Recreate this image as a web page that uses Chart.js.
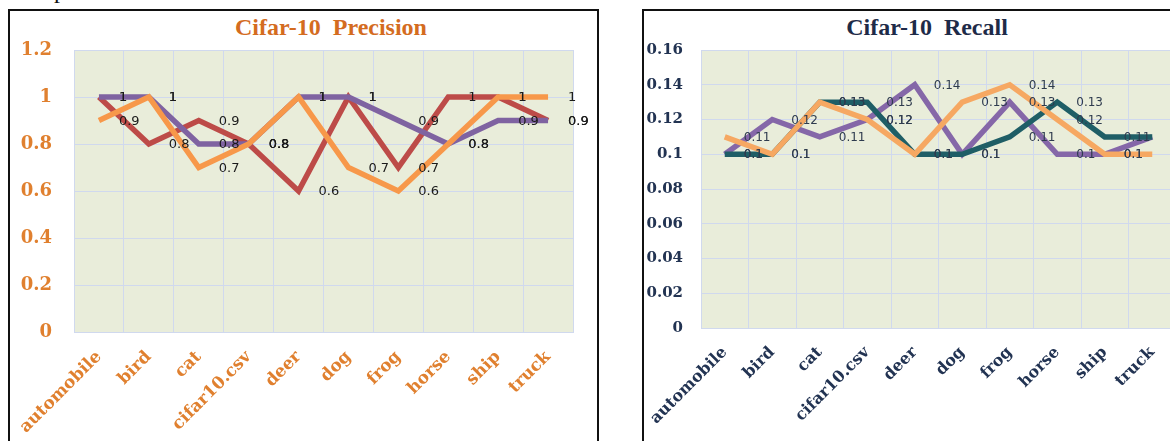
<!DOCTYPE html>
<html>
<head>
<meta charset="utf-8">
<script src="https://cdn.jsdelivr.net/npm/chart.js@4.4.1/dist/chart.umd.min.js"></script>
<style>
  html, body { margin: 0; padding: 0; background: #fff; }
  body { position: relative; width: 1170px; height: 441px; overflow: hidden; }
  .frame { position: absolute; box-sizing: border-box; border: 2px solid #111; height: 600px; }
  .title { position: absolute; width: 400px; text-align: center; white-space: pre;
           font-family: "Liberation Serif", serif; font-weight: bold; font-size: 24px; line-height: 24px; }
  canvas { position: absolute; }
  #cut { position: absolute; left: -2px; top: -22px; font-family: "Liberation Serif", serif; font-size: 24px; line-height: 24px; color: #111; }
</style>
</head>
<body>
<div id="cut">Example:</div>
<div class="frame" style="left:8px; top:9px; width:591px;"></div>
<div class="frame" style="left:642px; top:9px; width:600px;"></div>
<div class="title" style="left:131px; top:15px; color:#D46C1F;">Cifar-10  Precision</div>
<div class="title" style="left:727px; top:15px; color:#1E2B48;">Cifar-10  Recall</div>
<canvas id="precChart" width="586" height="470" style="left:10px; top:11px;"></canvas>
<canvas id="recChart" width="560" height="470" style="left:644px; top:11px;"></canvas>

<script>
// categories shared by both charts
const classes = ["automobile", "bird", "cat", "cifar10.csv", "deer", "dog", "frog", "horse", "ship", "truck"];

// precision series
const precRed    = [1, 0.8, 0.9, 0.8, 0.6, 1, 0.7, 1, 1, 0.9];
const precPurple = [1, 1, 0.8, 0.8, 1, 1, 0.9, 0.8, 0.9, 0.9];
const precOrange = [0.9, 1, 0.7, 0.8, 1, 0.7, 0.6, 0.8, 1, 1];

// recall series
const recPurple = [0.1, 0.12, 0.11, 0.12, 0.14, 0.1, 0.13, 0.1, 0.1, 0.11];
const recTeal   = [0.1, 0.1, 0.13, 0.13, 0.1, 0.1, 0.11, 0.13, 0.11, 0.11];
const recOrange = [0.11, 0.1, 0.13, 0.12, 0.1, 0.13, 0.14, 0.12, 0.1, 0.1];

// axis ranges
const precMax = 1.2, precStep = 0.2;
const recMax = 0.16, recStep = 0.02;

const plotBg = {
    id: "plotBg",
    beforeDraw(chart, args, opts) {
        const { ctx, chartArea } = chart;
        ctx.save();
        ctx.fillStyle = opts.color;
        ctx.fillRect(chartArea.left, chartArea.top, chartArea.width, chartArea.height);
        ctx.restore();
    }
};

// value labels to the right of every point
const pointLabels = {
    id: "pointLabels",
    afterDatasetsDraw(chart, args, opts) {
        const ctx = chart.ctx;
        ctx.save();
        ctx.font = opts.font;
        ctx.fillStyle = opts.color;
        ctx.textAlign = "left";
        ctx.textBaseline = "middle";
        chart.data.datasets.forEach((ds, i) => {
            chart.getDatasetMeta(i).data.forEach((pt, j) => {
                ctx.fillText(String(ds.data[j]), pt.x + opts.offset, pt.y + 1);
            });
        });
        ctx.restore();
    }
};

function line(data, color, order) {
    return {
        data: data,
        borderColor: color,
        borderWidth: 5.5,
        pointRadius: 0,
        tension: 0,
        fill: false,
        order: order
    };
}

function makeChart(id, cfg) {
    return new Chart(document.getElementById(id), {
        type: "line",
        data: { labels: classes, datasets: cfg.datasets },
        plugins: [plotBg, pointLabels],
        options: {
            responsive: false,
            animation: false,
            devicePixelRatio: 1,
            layout: { padding: { top: 39, right: cfg.padRight, left: 0, bottom: 0 } },
            plugins: {
                legend: { display: false },
                tooltip: { enabled: false },
                plotBg: { color: "#E9EDDA" },
                pointLabels: { font: cfg.labelFont, color: cfg.labelColor, offset: cfg.labelOffset }
            },
            scales: {
                x: {
                    offset: true,
                    grid: { offset: true, color: "#D0D9EE", lineWidth: 1, drawTicks: false },
                    border: { display: true, color: "#D0D9EE" },
                    ticks: {
                        autoSkip: false, minRotation: 45, maxRotation: 45, padding: cfg.xPad,
                        color: cfg.tickColor,
                        font: { family: "DejaVu Serif", weight: "bold", size: cfg.xSize }
                    },
                    afterFit(scale) {
                        scale.height = cfg.xHeight;
                        scale.paddingLeft = 0;
                        scale.paddingRight = 0;
                    }
                },
                y: {
                    min: 0, max: cfg.max,
                    grid: { color: "#D0D9EE", lineWidth: 1, drawTicks: false },
                    border: { display: true, color: "#D0D9EE" },
                    ticks: {
                        stepSize: cfg.step, padding: cfg.yPad, color: cfg.tickColor,
                        font: { family: "DejaVu Serif", weight: "bold", size: cfg.ySize },
                        callback: v => String(Math.round(v * 100) / 100)
                    },
                    afterFit(scale) { scale.width = cfg.yWidth; }
                }
            }
        }
    });
}

makeChart("precChart", {
    datasets: [
        line(precRed, "#BD4B48", 2),
        line(precPurple, "#7F63A1", 1),
        line(precOrange, "#F7984A", 0)
    ],
    max: precMax, step: precStep,
    padRight: 23, yWidth: 64, yPad: 22, xHeight: 149, xPad: 15,
    tickColor: "#E0802F", ySize: 18, xSize: 17,
    labelFont: "13px 'DejaVu Sans'", labelColor: "#1A1A1A", labelOffset: 20
});

makeChart("recChart", {
    datasets: [
        line(recPurple, "#8567A8", 2),
        line(recTeal, "#1F5E66", 1),
        line(recOrange, "#F6A862", 0)
    ],
    max: recMax, step: recStep,
    padRight: 28, yWidth: 57, yPad: 18, xHeight: 153, xPad: 15,
    tickColor: "#223352", ySize: 15, xSize: 16,
    labelFont: "12px 'DejaVu Sans'", labelColor: "#2E3B4E", labelOffset: 19
});
</script>
</body>
</html>
